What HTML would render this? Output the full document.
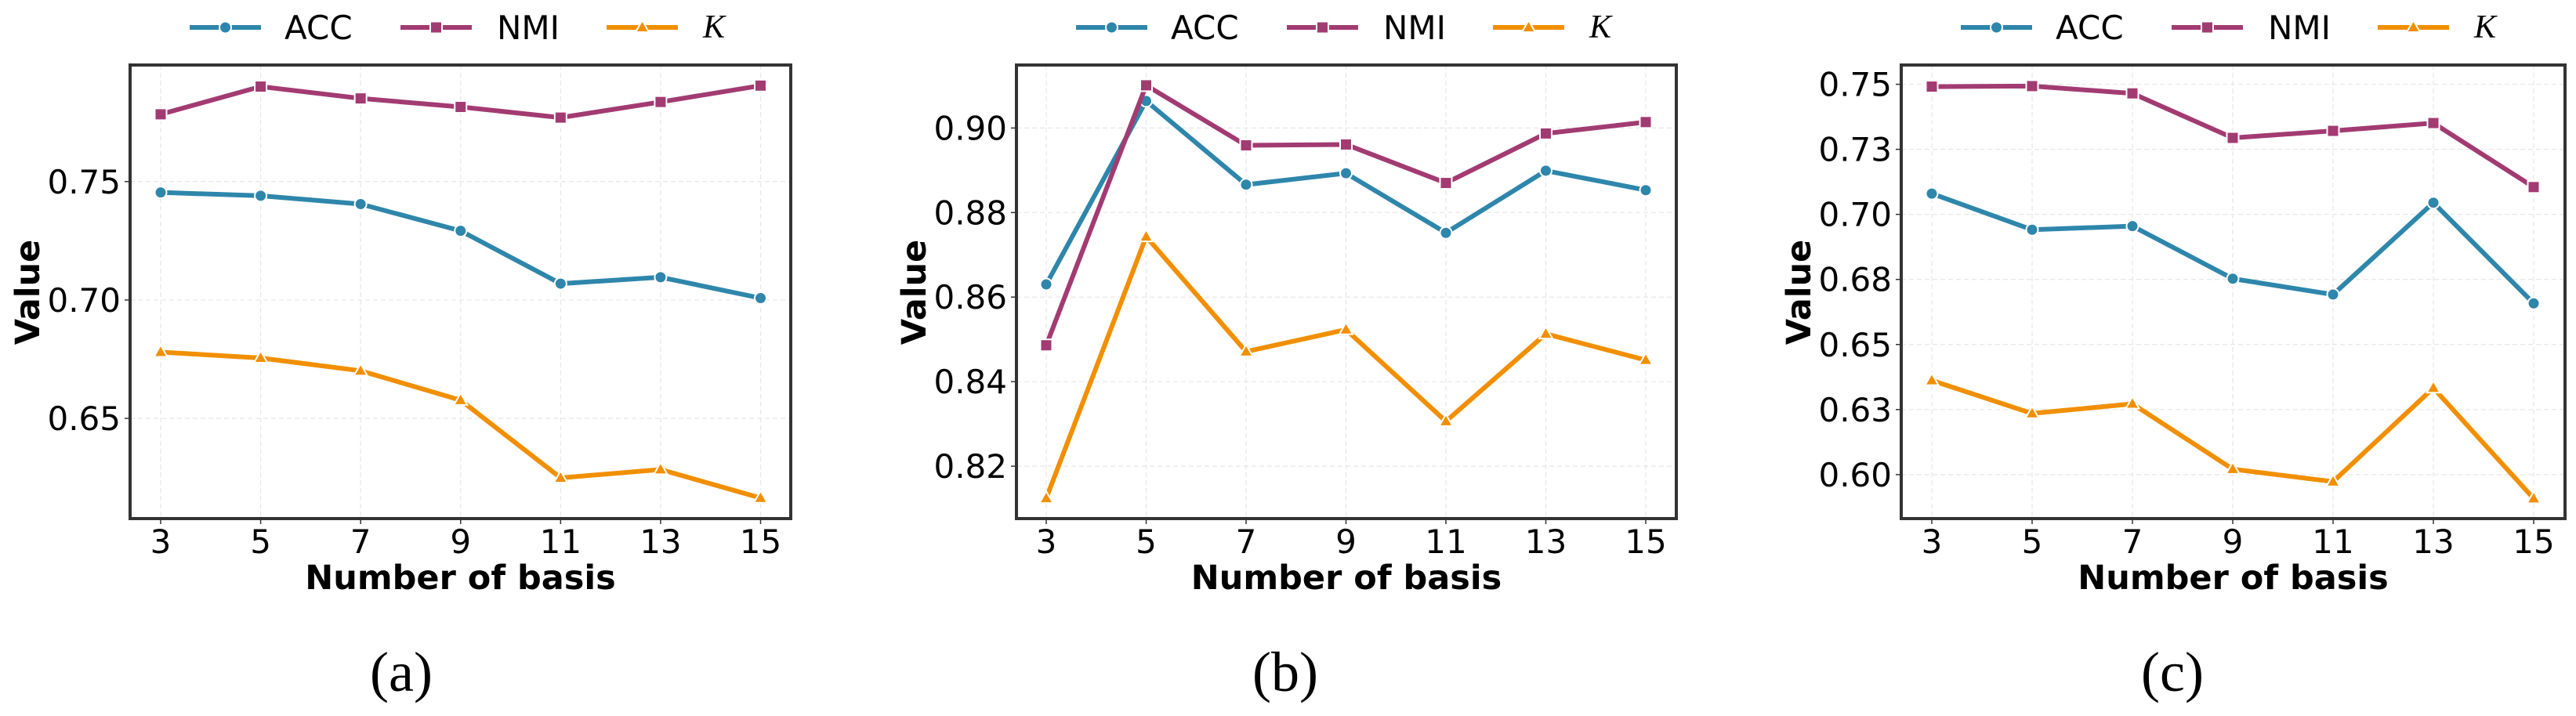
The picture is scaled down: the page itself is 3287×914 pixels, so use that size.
<!DOCTYPE html>
<html><head><meta charset="utf-8"><style>
html,body{margin:0;padding:0;background:#fff;}
svg{display:block;}
</style></head><body>
<svg id="fig" width="3287" height="914" viewBox="0 0 3287 914" xmlns="http://www.w3.org/2000/svg"></svg>
<script>
const categories = [3, 5, 7, 9, 11, 13, 15];
const accA = [0.7454, 0.7440, 0.7405, 0.7292, 0.7069, 0.7096, 0.7008];
const nmiA = [0.7784, 0.7901, 0.7851, 0.7815, 0.7770, 0.7836, 0.7905];
const kA   = [0.6780, 0.6755, 0.6701, 0.6577, 0.6249, 0.6284, 0.6164];
const accB = [0.8630, 0.9064, 0.8866, 0.8893, 0.8752, 0.8899, 0.8853];
const nmiB = [0.8486, 0.9101, 0.8959, 0.8961, 0.8870, 0.8987, 0.9014];
const kB   = [0.8124, 0.8743, 0.8471, 0.8523, 0.8306, 0.8513, 0.8451];
const accC = [0.7080, 0.6941, 0.6955, 0.6753, 0.6692, 0.7045, 0.6658];
const nmiC = [0.7491, 0.7493, 0.7465, 0.7294, 0.7321, 0.7351, 0.7105];
const kC   = [0.6362, 0.6235, 0.6272, 0.6021, 0.5973, 0.6333, 0.5908];
const ticksA = [0.65, 0.70, 0.75];
const tickLabelsA = ["0.65", "0.70", "0.75"];
const ticksB = [0.82, 0.84, 0.86, 0.88, 0.90];
const tickLabelsB = ["0.82", "0.84", "0.86", "0.88", "0.90"];
const ticksC = [0.600, 0.625, 0.650, 0.675, 0.700, 0.725, 0.750];
const tickLabelsC = ["0.60", "0.63", "0.65", "0.68", "0.70", "0.73", "0.75"];
const seriesNames = ["ACC", "NMI", "K"];
const captions = ["(a)", "(b)", "(c)"];

const NS = "http://www.w3.org/2000/svg";
const svg = document.getElementById("fig");
const COLORS = ["#2e86ab", "#a23b72", "#f18f01"];
function el(tag, attrs, parent, text) {
  const e = document.createElementNS(NS, tag);
  for (const k in attrs) e.setAttribute(k, attrs[k]);
  if (text !== undefined) e.textContent = text;
  (parent || svg).appendChild(e);
  return e;
}
function marker(kind, x, y, color, g) {
  let m;
  if (kind === 0) m = el("circle", {cx: x, cy: y, r: 7.5, fill: color, stroke: "#fff", "stroke-width": 2}, g);
  else if (kind === 1) m = el("rect", {x: x - 7.5, y: y - 7.5, width: 15, height: 15, fill: color, stroke: "#fff", "stroke-width": 2}, g);
  else m = el("polygon", {points: `${x},${y - 9} ${x + 8.5},${y + 6} ${x - 8.5},${y + 6}`, fill: color, stroke: "#fff", "stroke-width": 2}, g);
  return m;
}
const panels = [
  {L: 166, R: 1009, ymin: 0.6077, ymax: 0.7992, x3: 205, x15: 970.5, data: [accA, nmiA, kA], ticks: ticksA, labels: tickLabelsA, capX: 512},
  {L: 1297, R: 2139, ymin: 0.8076, ymax: 0.9149, x3: 1335, x15: 2100, data: [accB, nmiB, kB], ticks: ticksB, labels: tickLabelsB, capX: 1640},
  {L: 2426, R: 3273, ymin: 0.5831, ymax: 0.7574, x3: 2465, x15: 3233, data: [accC, nmiC, kC], ticks: ticksC, labels: tickLabelsC, capX: 2772}
];
const T = 83, B = 662;
panels.forEach((p, pi) => {
  const g = el("g", {});
  
  
  const xs = v => p.x3 + (v - categories[0]) * (p.x15 - p.x3) / (categories[categories.length - 1] - categories[0]);
  const ys = v => B - (v - p.ymin) * (B - T) / (p.ymax - p.ymin);
  categories.forEach(c => {
    const l = el("line", {x1: xs(c), x2: xs(c), y1: T, y2: B, stroke: "#e6e6e6", "stroke-width": 1.2, "stroke-dasharray": "6,4"}, g);
    
    
  });
  p.ticks.forEach(t => {
    const l = el("line", {x1: p.L, x2: p.R, y1: ys(t), y2: ys(t), stroke: "#e6e6e6", "stroke-width": 1.2, "stroke-dasharray": "6,4"}, g);
    
    
  });
  p.data.forEach((vals, si) => {
    const pts = vals.map((v, i) => xs(categories[i]) + "," + ys(v)).join(" ");
    const pl = el("polyline", {points: pts, fill: "none", stroke: COLORS[si], "stroke-width": 6, "stroke-linejoin": "round"}, g);
    
    
    vals.forEach((v, i) => {
      const m = marker(si, xs(categories[i]), ys(v), COLORS[si], g);
      
      
    });
  });
  const fr = el("rect", {x: p.L, y: T, width: p.R - p.L, height: B - T, fill: "none", stroke: "#333", "stroke-width": 4}, g);
  
  
  categories.forEach(c => {
    const tk = el("line", {x1: xs(c), x2: xs(c), y1: B, y2: B + 7, stroke: "#333", "stroke-width": 1.5}, g);
    
    
    const t = el("text", {x: xs(c), y: 706, "text-anchor": "middle", "font-family": "DejaVu Sans, sans-serif", "font-size": 42}, g, String(c));
    
    
  });
  p.ticks.forEach((tv, i) => {
    const tk = el("line", {x1: p.L - 7, x2: p.L, y1: ys(tv), y2: ys(tv), stroke: "#333", "stroke-width": 1.5}, g);
    
    
    const t = el("text", {x: p.L - 12, y: ys(tv) + 15, "text-anchor": "end", "font-family": "DejaVu Sans, sans-serif", "font-size": 42}, g, p.labels[i]);
    
    
  });
  const xl = el("text", {x: (p.L + p.R) / 2, y: 752, "text-anchor": "middle", "font-family": "DejaVu Sans, sans-serif", "font-weight": "bold", "font-size": 43}, g, "Number of basis");
  
  
  const yl = el("text", {x: 0, y: 0, transform: `translate(${p.L - 116},373) rotate(-90)`, "text-anchor": "middle", "font-family": "DejaVu Sans, sans-serif", "font-weight": "bold", "font-size": 43}, g, "Value");
  
  
  const lg = el("g", {}, g);
  
  
  const lx = [76, 345, 608], tx = [197, 468, 731];
  seriesNames.forEach((n, si) => {
    const x0 = p.L + lx[si];
    const e = el("g", {}, lg);
    
    
    el("line", {x1: x0, x2: x0 + 91, y1: 35, y2: 35, stroke: COLORS[si], "stroke-width": 6}, e);
    marker(si, x0 + 45.5, 35, COLORS[si], e);
    let t;
    if (si === 2) t = el("text", {x: p.L + tx[si], y: 48, "font-family": "Liberation Serif, serif", "font-style": "italic", "font-size": 42}, e, "K");
    else t = el("text", {x: p.L + tx[si], y: 50, "font-family": "DejaVu Sans, sans-serif", "font-size": 42}, e, n);
    
    
  });
  const cap = el("text", {x: p.capX, y: 882, "text-anchor": "middle", "font-family": "Liberation Serif, serif", "font-size": 72}, g, captions[pi]);
  
  
});
</script>
</body></html>
